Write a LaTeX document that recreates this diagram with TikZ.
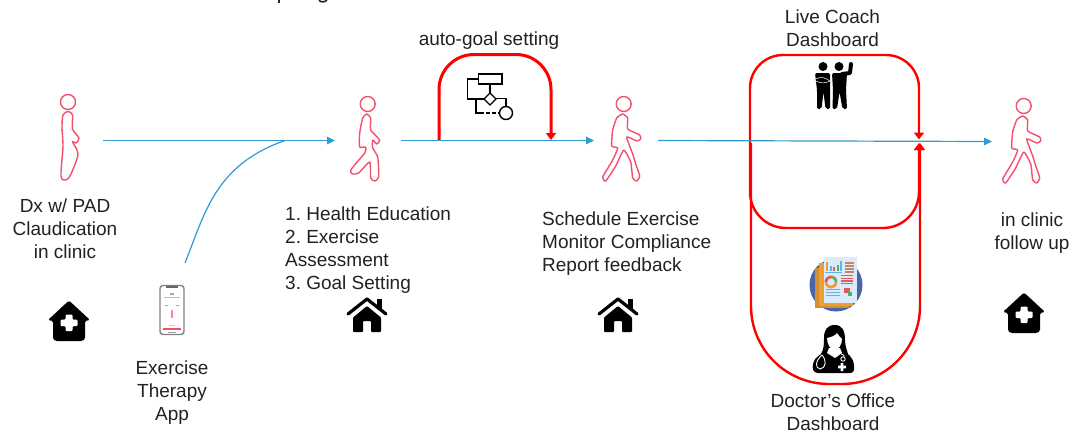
\documentclass[tikz,border=0pt]{standalone}
\usepackage{fontspec}
\setmainfont{Liberation Sans}
\frenchspacing
\usetikzlibrary{arrows.meta}
\definecolor{flow}{HTML}{2F9BD3}
\definecolor{loopred}{HTML}{FF0000}
\definecolor{pink}{HTML}{F4506E}
\definecolor{ink}{HTML}{222222}
\definecolor{repblue}{HTML}{4A66A8}
\definecolor{reporange}{HTML}{EE9F33}
\definecolor{repsheet}{HTML}{DCEBFA}
\definecolor{repsky}{HTML}{5FB3E8}
\definecolor{repred}{HTML}{E45B5B}
\definecolor{repgreen}{HTML}{4CB56A}
\definecolor{repbrown}{HTML}{C9875E}
\tikzset{
  x=1pt,y=-1pt,
  label text/.style={font=\fontsize{19}{23}\selectfont,text=ink,inner sep=0pt,align=center},
  left text/.style={label text,align=left,anchor=north west},
  flowline/.style={draw=flow,line width=1.2pt},
  flowarrow/.style={flowline,-{Triangle[length=8pt,width=7.5pt]}},
  redloop/.style={draw=loopred,line width=2.4pt},
  redarrow/.style={redloop,-{Triangle[length=7pt,width=10pt]}},
  figure line/.style={draw=pink,line width=1.4pt,fill=white,line join=round},
  pics/standing/.style={code={
    \draw[figure line] (0,0) circle (7.5);
    \draw[figure line] plot[smooth cycle,tension=.5] coordinates {(0,9.5) (4.5,13) (4.5,27) (11,36) (8,41) (4.5,40) (10,52) (3,72) (-2,78) (-7,74) (-5,44) (-6,26) (-5,13)};
  }},
  pics/walkA/.style={code={
    \draw[figure line] (0,0) circle (7.5);
    \draw[figure line] plot[smooth cycle,tension=.35] coordinates {(-1,10) (3,14) (3,26) (12,36) (9,40) (5,36) (5,44) (10,53) (11,73) (7,77) (3,74) (2,58) (-9,69) (-15,70) (-17,66) (-3,49) (-2,43) (-8,43) (-8,29) (-5,14)};
  }},
  pics/walkB/.style={code={
    \draw[figure line] (0,0) circle (7.5);
    \draw[figure line] plot[smooth cycle,tension=.3] coordinates {(-1,10) (4,14) (4,25) (16,31) (17,35) (13,37) (3,33) (9,50) (12,60) (16,72) (13,77) (9,74) (7,58) (0,46) (-8,62) (-18,77) (-21,73) (-11,56) (-6,44) (-12,42) (-11,26) (-7,14)};
  }},
  pics/housecross/.style={code={
    \fill[black,rounded corners=1.5pt] (0,-20.5) -- (21,-1) -- (16,0) -- (16,18) -- (13.5,20) -- (-13.5,20) -- (-16,18) -- (-16,0) -- (-21,-1) -- cycle;
    \fill[white,rounded corners=1pt] (-3.5,-6.5) -- (3.5,-6.5) -- (3.5,-1.5) -- (8.5,-1.5) -- (8.5,5) -- (3.5,5) -- (3.5,10) -- (-3.5,10) -- (-3.5,5) -- (-8.5,5) -- (-8.5,-1.5) -- (-3.5,-1.5) -- cycle;
  }},
  pics/houseplain/.style={code={
    \fill[black] (9.5,-16.5) rectangle (14.5,-6);
    \draw[black,line width=3.2pt,line cap=round,line join=round] (-19,-1) -- (0,-16) -- (19,-1);
    \fill[black,rounded corners=.8pt] (-14,2.5) -- (0,-9) -- (14,2.5) -- (14,17) -- (4,17) -- (4,6) -- (-4,6) -- (-4,17) -- (-14,17) -- cycle;
  }},
}
\begin{document}
\begin{tikzpicture}
\useasboundingbox (0,0) rectangle (1086,434);
\fill[white] (0,0) rectangle (1086,434);

% clipped title fragment at the top edge
\begin{scope}
  \clip (0,0) rectangle (1086,434);
  \fill[ink] (278,0) rectangle (280,2.5);
  \draw[ink,line width=1.6pt] (319,0) .. controls (320,2.5) and (325,2.5) .. (327,0);
\end{scope}

% connector end points
\coordinate (a1) at (103,140.5);
\coordinate (a2) at (335,140.5);
\coordinate (app) at (185,263);
\coordinate (join) at (285,140.5);
\coordinate (b1) at (401,140.5);
\coordinate (b2) at (594,140.5);
\coordinate (c1) at (658,140.5);
\coordinate (c2) at (992,141.5);
\coordinate (g1) at (439,140);
\coordinate (g2) at (551,140);
\coordinate (k1) at (750,141);
\coordinate (k2) at (919,139.5);
\coordinate (k3) at (919,143);
\coordinate (d1) at (751,143);
\coordinate (d2) at (920,143);

% red loops
\draw[redarrow,line width=3pt,rounded corners=35pt] (g1) -- (439,54.5) -- (551,54.5) -- (g2);
\draw[redarrow,rounded corners=33pt] (k1) -- (750,55) -- (919,55) -- (k2);
\draw[redarrow,rounded corners=36pt] (k1) -- (750,228) -- (919,228) -- (k3);
\draw[redarrow,rounded corners=78pt] (d1) -- (751,384) -- (920,384) -- (d2);

% blue flow
\draw[flowarrow] (a1) -- (a2);
\draw[flowline] (app) .. controls (205,213) and (215,165) .. (join);
\draw[flowarrow] (b1) -- (b2);
\draw[flowarrow] (c1) -- (c2);

% walking figures
\pic at (68,102) {standing};
\pic at (367.7,104) {walkA};
\pic at (623.7,104) {walkB};
\pic at (1023.7,106) {walkB};

% homes
\pic at (69,321) {housecross};
\pic at (367,315) {houseplain};
\pic at (618,315) {houseplain};
\pic at (1024,313) {housecross};

% phone
\draw[draw=black!50,line width=1.4pt,fill=white,rounded corners=3pt] (160,285.5) rectangle (184,334.5);
\fill[black!60] (166,285.5) rectangle (178,287.5);
\fill[black!35] (170,293) rectangle (174,295);
\fill[black!25] (164,297) rectangle (180,297.6);
\fill[pink!70] (165,305) rectangle (168,306) (176,305) rectangle (179,306);
\fill[pink!70] (171,310) rectangle (173,318);
\fill[black!20] (169,325) rectangle (175,326);
\fill[pink] (163,327.5) rectangle (181,330);
\fill[black!40] (168,332) rectangle (176,332.8);

% flowchart icon
\begin{scope}[black,line width=1.1pt]
  \draw[line width=1.3pt] (478.5,74) rectangle (502,84);
  \draw[line width=1.3pt] (490,93) -- (496,99) -- (490,105) -- (484,99) -- cycle;
  \draw[line width=1.4pt] (506,113) circle (6.5);
  \draw (478.5,79) -- (467.5,79) -- (467.5,99) -- (484,99);
  \draw (490,84) -- (490,93);
  \draw (496,98.5) -- (506,98.5) -- (506,106.5);
  \draw (476,99) -- (476,113) -- (480,113);
  \draw[dash pattern=on 4pt off 2pt] (480,113) -- (499.5,113);
  \fill (490,88) circle (1.3) (506,103) circle (1.3);
\end{scope}

% coach icon
\begin{scope}[black]
  \fill (823,66.5) circle (4.5) (839,66.5) circle (4.5);
  \draw[line width=4pt,line cap=round,line join=round] (842,74) -- (850,73) -- (851,64);
  \fill[rounded corners=2pt] (815,73) -- (830,73) -- (830,90) -- (830,109) -- (825.5,109) -- (823.5,92) -- (821.5,109) -- (817,109) -- (817,90) -- cycle;
  \fill[rounded corners=2pt] (832,73) -- (847,73) -- (846,90) -- (847,109) -- (842.5,109) -- (839.5,92) -- (837,109) -- (832.5,109) -- (833,90) -- cycle;
  \draw[white,line width=.5pt] (816,79) .. controls (821,76) and (826,78) .. (830,81);
  \draw[white,line width=.5pt] (816,81) .. controls (821,84) and (826,83) .. (830,81);
  \draw[line width=.8pt,white] (831,76) -- (831,108);
\end{scope}

% report icon
\fill[repblue] (836,285) circle (26.5);
\begin{scope}
  \fill[reporange!90!black] (815,268) rectangle (849,308);
  \fill[reporange] (819,263) rectangle (853,305.5);
  \fill[repsheet] (824,257) rectangle (857,303);
  \foreach \x/\h/\c in {826/9/reporange,829.5/5/repsky,833/4/repred,836.5/6/repgreen,840/10/repsky}
    \fill[\c] (\x,271) rectangle ++(2.4,-\h);
  \fill[repsky] (825,271.5) rectangle (842,272.3);
  \foreach \y in {262,265,268,271} \fill[repbrown] (845,\y) rectangle (854,\y+1.8);
  \draw[repred,line width=2.8pt] plot[domain=180:290,samples=12] ({831+5*cos(\x)},{282+5*sin(\x)});
  \draw[repgreen,line width=2.8pt] plot[domain=290:360,samples=8] ({831+5*cos(\x)},{282+5*sin(\x)});
  \draw[reporange,line width=2.8pt] plot[domain=0:180,samples=12] ({831+5*cos(\x)},{282+5*sin(\x)});
  \foreach \y in {275,277.6,280.2,282.8} \fill[repred] (841,\y) rectangle (853,\y+1.4);
  \foreach \y in {289,292,295} \fill[repsky] (826,\y) rectangle (840,\y+1.3);
  \fill[repred] (844,288) rectangle (850,293);
  \fill[repgreen] (848,292) rectangle (852,296);
\end{scope}

% doctor icon
\begin{scope}
  \fill[black] (818,373) .. controls (813,373) and (812,368) .. (813,364) .. controls (815,356) and (822,353) .. (828,351) -- (842,351) .. controls (848,353) and (853,357) .. (854,365) .. controls (855,371) and (853,373) .. (850,373) -- cycle;
  \fill[black] (835,325) .. controls (843,325) and (845,332) .. (845,340) .. controls (845,346) and (847,350) .. (848,354) -- (821,354) .. controls (824,349) and (824,344) .. (824,338) .. controls (824,330) and (827,325) .. (835,325) -- cycle;
  \fill[white] (827,338) .. controls (831,337) and (835,336) .. (837,333) .. controls (839,336) and (841,338) .. (842,339) .. controls (842,345) and (838,350) .. (835,350) .. controls (831,350) and (827,345) .. (827,338) -- cycle;
  \fill[white] (829,348) -- (840,348) -- (842,353) -- (835,358) -- (827,353) -- cycle;
  \draw[white,line width=.9pt] (822,355) .. controls (815,361) and (815,368) .. (820,369) .. controls (826,368) and (827,361) .. (822,355);
  \draw[white,line width=.9pt] (841,354) .. controls (844,355) and (845,356) .. (844,357);
  \draw[white,line width=.9pt] (843,359) circle (2.2);
  \fill[white] (840.7,363) rectangle (843.3,371) (838,365.7) rectangle (846,368.3);
\end{scope}

% labels
\node[label text] (dx) at (65,229) {Dx w/ PAD\\Claudication\\in clinic};
\node[label text] (appt) at (172,393) {Exercise\\Therapy\\App};
\node[left text] (edu) at (285,207) {1. Health Education\\2. Exercise\\Assessment\\3. Goal Setting};
\node[left text] (sch) at (542,212) {Schedule Exercise\\Monitor Compliance\\Report feedback};
\node[label text] (auto) at (489,41) {auto-goal setting};
\node[label text] (live) at (832.5,28.5) {Live Coach\\Dashboard};
\node[label text] (doc) at (833,412.5) {Doctor’s Office\\Dashboard};
\node[label text] (fu) at (1032,233) {in clinic\\follow up};
\end{tikzpicture}
\end{document}
